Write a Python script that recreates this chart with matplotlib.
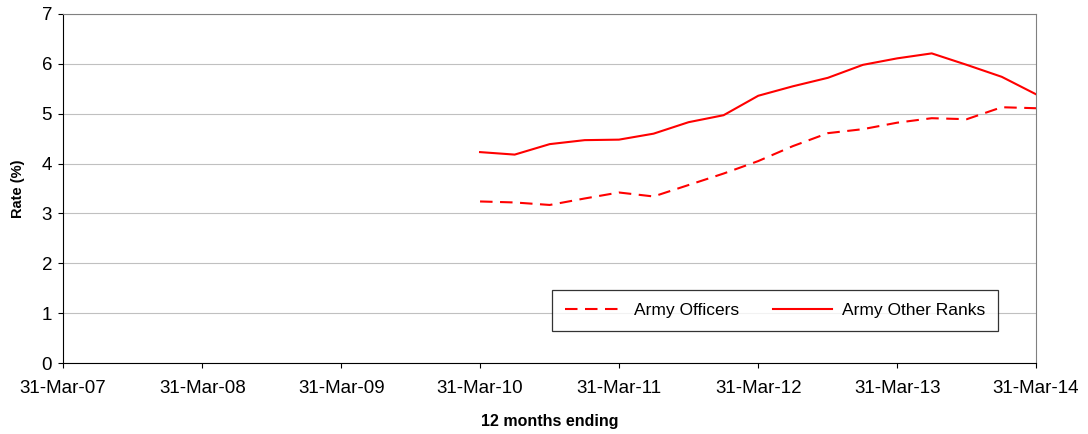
import matplotlib

matplotlib.use("Agg")

import matplotlib.pyplot as plt
import pandas as pd

plt.rcParams["font.family"] = ["Liberation Sans", "DejaVu Sans"]

# Quarterly 12-month periods, Mar-10 to Mar-14
periods = pd.date_range("2010-03-31", "2014-03-31", freq="QE")
officers = [3.24, 3.22, 3.17, 3.30, 3.42, 3.34, 3.57, 3.80, 4.05,
            4.35, 4.61, 4.69, 4.82, 4.91, 4.89, 5.13, 5.11]
other_ranks = [4.23, 4.18, 4.39, 4.47, 4.48, 4.60, 4.83, 4.97, 5.36,
               5.55, 5.72, 5.98, 6.11, 6.21, 5.98, 5.74, 5.39]

tick_dates = pd.date_range("2007-03-31", "2014-03-31", freq="12ME")
tick_labels = [d.strftime("%d-%b-%y") for d in tick_dates]

W, H = 1088, 434
fig = plt.figure(figsize=(W / 100, H / 100), dpi=100)
ax = fig.add_axes([63 / W, 1 - 363 / H, (1036 - 63) / W, (363 - 14) / H])

ax.plot(periods, officers, color="#ff0000", linestyle=(0, (6, 3.6)), linewidth=1.5,
        label="Army Officers")
ax.plot(periods, other_ranks, color="#ff0000", linewidth=1.5, label="Army Other Ranks")

ax.set_xlim(tick_dates[0], tick_dates[-1])
ax.set_ylim(0, 7)
ax.set_xticks(tick_dates)
ax.set_xticklabels(tick_labels)
ax.set_yticks(range(8))
ax.tick_params(labelsize=13.5, length=3.6, width=0.8, color="black", direction="out")
ax.tick_params(axis="x", pad=8.6)
ax.tick_params(axis="y", pad=4.3)

ax.grid(axis="y", color="#c0c0c0", linewidth=0.8)
ax.set_axisbelow(True)
for side in ["left", "bottom"]:
    ax.spines[side].set_color("black")
for side in ["top", "right"]:
    ax.spines[side].set_color("#808080")

ax.set_ylabel("Rate (%)", fontsize=10.5, fontweight="bold")
ax.yaxis.set_label_coords(-38 / 973, 0.5)
ax.set_xlabel("12 months ending", fontsize=11.5, fontweight="bold")
ax.xaxis.set_label_coords(0.5, -51 / 349)

leg = ax.legend(ncol=2, loc="upper left", bbox_to_anchor=(489 / 973, 73 / 349),
                fontsize=12.5, frameon=True, fancybox=False, handlelength=3.4,
                columnspacing=1.9, borderpad=0.75, handletextpad=0.6,
                borderaxespad=0)
leg.get_frame().set_edgecolor("black")
leg.get_frame().set_linewidth(0.9)

fig.savefig("out.png", dpi=100)
